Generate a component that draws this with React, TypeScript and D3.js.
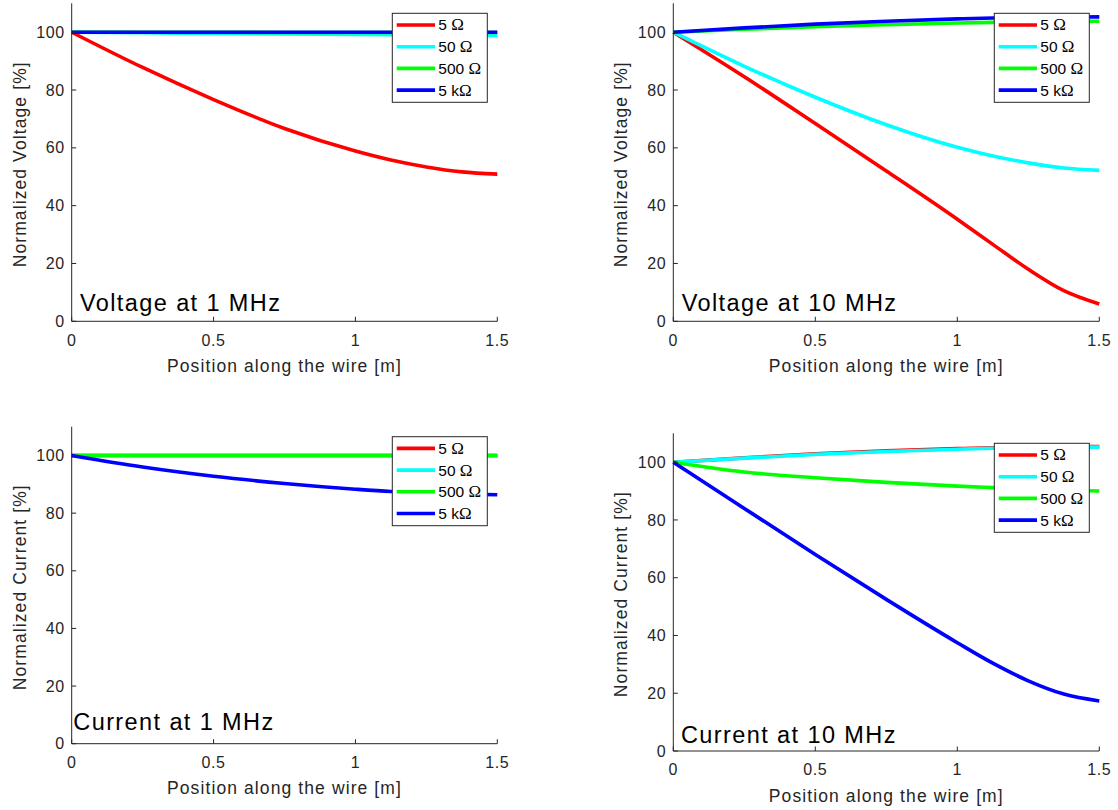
import React from "react";
import * as d3 from "d3";

const positions = [0, 0.25, 0.5, 0.75, 1, 1.125, 1.25, 1.375, 1.5];
const seriesNames = ["5 Ω", "50 Ω", "500 Ω", "5 kΩ"];
const seriesColors = ["#ff0000", "#00ffff", "#00ff00", "#0000ff"];
const xTicks = [0, 0.5, 1, 1.5];
const xTickLabels = ["0", "0.5", "1", "1.5"];
const yTicks = [0, 20, 40, 60, 80, 100];

// Voltage at 1 MHz
const v1_5 = [100, 87.8, 76.7, 66.7, 58.9, 55.8, 53.4, 51.7, 50.9];
const v1_50 = [100, 99.8, 99.6, 99.4, 99.2, 99.1, 99.0, 98.9, 98.9];
const v1_500 = [100, 100, 100, 99.9, 99.9, 99.9, 99.9, 99.9, 99.9];
const v1_5k = [100, 100, 100, 100, 100, 100, 100, 100, 100];

// Voltage at 10 MHz
const v10_5 = [100, 84.6, 68.4, 52.0, 35.3, 26.6, 18.0, 10.6, 6.0];
const v10_50 = [100, 88.2, 77.5, 68.0, 60.2, 57.2, 54.8, 53.0, 52.2];
const v10_500 = [100, 101.0, 101.9, 102.6, 103.2, 103.4, 103.6, 103.7, 103.8];
const v10_5k = [100, 101.5, 102.8, 103.8, 104.6, 104.9, 105.1, 105.2, 105.3];

// Current at 1 MHz
const i1_5 = [100, 100, 100, 100, 100, 100, 100, 100, 100];
const i1_50 = [100, 100, 100, 100, 100, 100, 100, 100, 100];
const i1_500 = [100, 100, 100, 100, 100, 100, 100, 100, 100];
const i1_5k = [100, 96.0, 92.8, 90.3, 88.3, 87.5, 87.0, 86.6, 86.4];

// Current at 10 MHz
const i10_5 = [100, 101.5, 102.9, 103.9, 104.7, 105.0, 105.2, 105.4, 105.4];
const i10_50 = [100, 101.4, 102.7, 103.7, 104.5, 104.8, 105.0, 105.2, 105.2];
const i10_500 = [100, 96.6, 94.6, 93.0, 91.7, 91.2, 90.7, 90.3, 90.0];
const i10_5k = [100, 84.0, 68.0, 52.5, 37.5, 30.4, 24.3, 19.7, 17.3];

const FONT = "'Liberation Sans', Arial, Helvetica, sans-serif";
const SERIF = "'Liberation Serif', 'Times New Roman', serif";
const AX = "#262626";

type Panel = {
  x0: number; x1: number; yTop: number; yBot: number;
  title: string; tdx: number; tdy: number;
  ylabel: string; data: number[][];
};

const panels: Panel[] = [
  { x0: 71.7, x1: 497.3, yTop: 3.3, yBot: 321.3, title: "Voltage at 1 MHz", tdx: 8.3, tdy: -10.6,
    ylabel: "Normalized Voltage [%]", data: [v1_5, v1_50, v1_500, v1_5k] },
  { x0: 673.3, x1: 1099.3, yTop: 3.3, yBot: 321.3, title: "Voltage at 10 MHz", tdx: 8.4, tdy: -10.3,
    ylabel: "Normalized Voltage [%]", data: [v10_5, v10_50, v10_500, v10_5k] },
  { x0: 71.7, x1: 497.3, yTop: 426.7, yBot: 743.7, title: "Current at 1 MHz", tdx: 1.6, tdy: -13.7,
    ylabel: "Normalized Current [%]", data: [i1_5, i1_50, i1_500, i1_5k] },
  { x0: 673.3, x1: 1099.3, yTop: 433.3, yBot: 751, title: "Current at 10 MHz", tdx: 7.7, tdy: -7.7,
    ylabel: "Normalized Current [%]", data: [i10_5, i10_50, i10_500, i10_5k] },
];

function LegendLabel({ name }: { name: string }) {
  const parts = name.split("Ω");
  return (
    <>
      <tspan>{parts[0]}</tspan>
      <tspan fontFamily={SERIF} fontSize={17}>Ω</tspan>
    </>
  );
}

function PanelView({ p }: { p: Panel }) {
  const x = d3.scaleLinear().domain([0, 1.5]).range([p.x0, p.x1]);
  const y = d3.scaleLinear().domain([0, 110]).range([p.yBot, p.yTop]);
  const line = d3
    .line<number>()
    .x((_, i) => x(positions[i]))
    .y((d) => y(d))
    .curve(d3.curveMonotoneX);
  const lx = p.x1 - 105;
  const ly = p.yTop + 10;
  return (
    <g>
      {p.data.map((s, k) => (
        <path key={k} d={line(s) || ""} fill="none" stroke={seriesColors[k]} strokeWidth={3.6} strokeLinejoin="round" />
      ))}
      <line x1={p.x0} x2={p.x0} y1={p.yTop} y2={p.yBot} stroke={AX} strokeWidth={1} />
      <line x1={p.x0} x2={p.x1} y1={p.yBot} y2={p.yBot} stroke={AX} strokeWidth={1} />
      {xTicks.map((t, i) => (
        <g key={"x" + i}>
          <line x1={x(t)} x2={x(t)} y1={p.yBot} y2={p.yBot - 4.5} stroke={AX} strokeWidth={1} />
          <text x={x(t)} y={p.yBot + 24.2} textAnchor="middle" fontFamily={FONT} fontSize={16} letterSpacing={0.6} fill={AX}>
            {xTickLabels[i]}
          </text>
        </g>
      ))}
      {yTicks.map((t, i) => (
        <g key={"y" + i}>
          <line x1={p.x0} x2={p.x0 + 4.5} y1={y(t)} y2={y(t)} stroke={AX} strokeWidth={1} />
          <text x={p.x0 - 7} y={y(t) + 5.6} textAnchor="end" fontFamily={FONT} fontSize={16} letterSpacing={0.6} fill={AX}>
            {t}
          </text>
        </g>
      ))}
      <text x={(p.x0 + p.x1) / 2} y={p.yBot + 50.5} textAnchor="middle" fontFamily={FONT} fontSize={17.5} letterSpacing={1.1} fill={AX}>
        Position along the wire [m]
      </text>
      <text
        transform={`translate(${p.x0 - 46}, ${(p.yTop + p.yBot) / 2 + 2}) rotate(-90)`}
        textAnchor="middle" fontFamily={FONT} fontSize={17.5} letterSpacing={1.1} fill={AX}
      >
        {p.ylabel}
      </text>
      <text x={p.x0 + p.tdx} y={p.yBot + p.tdy} fontFamily={FONT} fontSize={23.5} letterSpacing={1.4} fill="#000">
        {p.title}
      </text>
      <rect x={lx} y={ly} width={95} height={89} fill="#fff" stroke={AX} strokeWidth={1} />
      {seriesNames.map((n, k) => {
        const yy = ly + 11.7 + k * 21.7;
        return (
          <g key={"l" + k}>
            <line x1={lx + 4.4} x2={lx + 42.7} y1={yy} y2={yy} stroke={seriesColors[k]} strokeWidth={3.6} />
            <text x={lx + 46} y={yy + 5.4} fontFamily={FONT} fontSize={15.5} fill="#000">
              <LegendLabel name={n} />
            </text>
          </g>
        );
      })}
    </g>
  );
}

export default function App() {
  return (
    <svg width={1118} height={810} style={{ position: "absolute", left: 0, top: 0, background: "#fff" }}>
      <rect x={0} y={0} width={1118} height={810} fill="#fff" />
      {panels.map((p, i) => (
        <PanelView key={i} p={p} />
      ))}
    </svg>
  );
}
